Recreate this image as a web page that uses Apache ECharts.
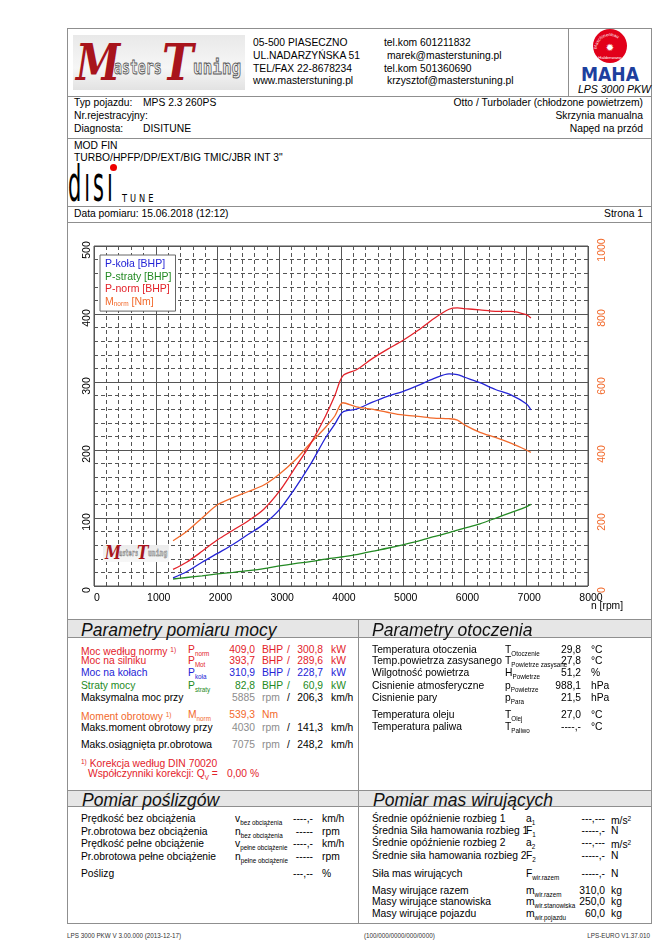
<!DOCTYPE html>
<html><head><meta charset="utf-8">
<script src="https://cdn.jsdelivr.net/npm/echarts@6/dist/echarts.min.js"></script>
<style>
body{margin:0;width:669px;height:946px;position:relative;background:#fff;font-family:'Liberation Sans',Arial,sans-serif;overflow:hidden}
.t{position:absolute;white-space:nowrap;font-size:10.3px;line-height:12px;color:#000}
.sb{font-size:6.3px;vertical-align:-3px}
.sp{font-size:6.5px;vertical-align:3px}
.hl{position:absolute;left:67px;width:585px;height:0;border-top:1.3px solid #8f8f8f}
.vl{position:absolute;width:0;border-left:1.3px solid #8f8f8f}
.band{position:absolute;background:#e6e6e6}
.sec{position:absolute;white-space:nowrap;font-style:italic;font-size:17.5px;line-height:20px;color:#111}
#chart{position:absolute;left:67px;top:222px;width:585px;height:397px}
.lg{position:absolute;transform-origin:0 0;white-space:nowrap}
</style></head>
<body>
<div style="position:absolute;left:67px;top:28px;width:585px;height:896px;box-sizing:border-box;border:1.5px solid #8f8f8f"></div>
<div class="hl" style="top:96px"></div>
<div class="hl" style="top:138px"></div>
<div class="hl" style="top:206px"></div>
<div class="hl" style="top:222px"></div>
<div class="band" style="left:68px;top:620px;width:583px;height:17px"></div>
<div class="band" style="left:68px;top:791px;width:583px;height:15px"></div>
<div class="hl" style="top:619px"></div>
<div class="hl" style="top:637px"></div>
<div class="hl" style="top:790px"></div>
<div class="hl" style="top:806px"></div>
<div class="vl" style="left:568px;top:28px;height:68px"></div>
<div class="vl" style="left:358px;top:619px;height:305px"></div>

<!-- Masters Tuning logo -->
<div style="position:absolute;left:73px;top:35px;width:172px;height:55px;background:linear-gradient(180deg,#e9e9e9,#f6f6f6 60%,#e2e2e2);overflow:hidden">
  <span class="lg" style="left:3px;top:-2px;font:italic bold 50px 'DejaVu Serif';color:#a8141c;transform:scaleX(0.8)">M</span>
  <span class="lg" style="left:41px;top:20px;font:bold 20px 'DejaVu Sans Mono';color:#f0f0f0;-webkit-text-stroke:0.9px #555;transform:scaleX(0.66)">asters</span>
  <span class="lg" style="left:89px;top:-2px;font:italic bold 50px 'DejaVu Serif';color:#a8141c;transform:scaleX(0.85)">T</span>
  <span class="lg" style="left:120px;top:20px;font:bold 20px 'DejaVu Sans Mono';color:#f0f0f0;-webkit-text-stroke:0.9px #555;transform:scaleX(0.8)">uning</span>
</div>

<!-- MAHA logo -->
<svg style="position:absolute;left:578px;top:27px" width="64" height="56" viewBox="0 0 64 56">
  <defs><path id="arc" d="M19,22 A13,13 0 0 1 45,22"/></defs>
  <circle cx="32" cy="19" r="17" fill="#e2001a"/>
  <text font-size="4.4" fill="#fff" font-family="Liberation Sans"><textPath href="#arc">Maschinenbau</textPath></text>
  <text x="32" y="24" font-size="10" fill="#fff" text-anchor="middle" font-family="DejaVu Sans">✹</text>
  <text x="32" y="32" font-size="4.2" fill="#fff" text-anchor="middle" font-family="Liberation Sans">Haldenwang</text>
  <text x="32" y="54" font-size="20" font-weight="bold" fill="#1d3f9e" text-anchor="middle" font-family="DejaVu Sans Condensed" textLength="58" lengthAdjust="spacingAndGlyphs">MAHA</text>
</svg>
<div class="t" style="left:578px;top:83px;font-style:italic;font-size:10.5px">LPS 3000 PKW</div>

<!-- disi TUNE logo -->
<div class="lg" style="left:68px;top:159px;font:50px 'DejaVu Sans';line-height:50px;transform:scaleX(0.42);letter-spacing:7px;color:#000">dısı</div>
<div style="position:absolute;left:110px;top:164px;width:7px;height:7px;border-radius:50%;background:#e00"></div>
<div class="lg" style="left:122px;top:193px;font:11px 'DejaVu Sans';line-height:11px;transform:scaleX(0.75);letter-spacing:4px">TUNE</div>

<div id="chart"></div>
<!-- chart watermark -->
<div style="position:absolute;left:103px;top:545px;width:66px;height:17px;background:linear-gradient(180deg,#ececec,#f7f7f7);overflow:hidden">
  <span class="lg" style="left:2px;top:-3px;font:italic bold 18px 'DejaVu Serif';color:#a8141c;transform:scaleX(0.8)">M</span>
  <span class="lg" style="left:16px;top:4px;font:bold 8px 'DejaVu Sans Mono';color:#eee;-webkit-text-stroke:0.4px #555;transform:scaleX(0.66)">asters</span>
  <span class="lg" style="left:34px;top:-3px;font:italic bold 18px 'DejaVu Serif';color:#a8141c;transform:scaleX(0.85)">T</span>
  <span class="lg" style="left:45px;top:4px;font:bold 8px 'DejaVu Sans Mono';color:#eee;-webkit-text-stroke:0.4px #555;transform:scaleX(0.8)">uning</span>
</div>

<script>
// ---- chart data ----
const rpm     = [1280,1500,1750,2000,2250,2500,2750,3000,3250,3500,3750,3900,4030,4250,4500,4750,5000,5250,5500,5750,5885,6000,6250,6500,6750,7000,7075];
const pKola   = [12,21,35,48,61,76,91,112,143,178,218,238,256,260,270,279,286,295,305,312,311,307,299,289,281,268,259];
const pStraty = [10.3,12.5,15,17.7,20,22.5,25.5,29.5,33,36,39.5,41.5,43,46,51,55.5,60.5,66,72.5,78.5,82,85,91.5,99.5,108,116.5,120];
const pNorm   = [24.5,35,51,68,82,96,113,139,173,208,250,280,309,318,334,348,361,376,393,407,409,408,406,404,404,399,394];
const mNorm   = [133,160,200,239,260,278,297,329,369,419,467,500,539,527,520,511,503,499,494,492,488,474,452,437,420,400,393];
const seriesNames = ['P-koła [BHP]','P-straty [BHP]','P-norm [BHP]','Mnorm [Nm]'];
const xRange = [0, 8000, 1000];
const yLeftRange = [0, 500, 100];
const yRightRange = [0, 1000, 200];

const BLUE='#2424d6', GREEN='#238a23', RED='#e3222a', ORANGE='#f26a2c', GRAY='#8c8c8c';
const FONT="'Liberation Sans', Arial, sans-serif";

function pair(v){ return rpm.map((r,i)=>[r,v[i]]); }

const chart = echarts.init(document.getElementById('chart'), null, {renderer:'canvas'});
const lineSer = (name, data, color, yi) => ({
  name, type:'line', data: pair(data), yAxisIndex: yi, showSymbol:false, smooth:0.3,
  lineStyle:{color, width:1.3}, itemStyle:{color}, z: 5
});
const plain = v => String(v);
chart.setOption({
  animation:false,
  textStyle:{fontFamily:FONT},
  grid:{left:27, right:64, top:24, bottom:33, show:true, borderColor:'#555', borderWidth:1},
  legend:{
    orient:'vertical', left:33, top:33, itemWidth:0, itemHeight:12, itemGap:0.7,
    padding:[3,4,3,0], borderColor:'#666', borderWidth:1, backgroundColor:'#fff',
    selectedMode:false,
    textStyle:{fontSize:10.5, fontFamily:FONT, lineHeight:12},
    formatter: n => n.startsWith('M') ? '{o|M}{os|norm}{o| [Nm]}' : n,
    data:[
      {name:seriesNames[0], icon:'none', textStyle:{color:BLUE}},
      {name:seriesNames[1], icon:'none', textStyle:{color:GREEN}},
      {name:seriesNames[2], icon:'none', textStyle:{color:RED}},
      {name:seriesNames[3], icon:'none', textStyle:{color:ORANGE, rich:{
        o:{color:ORANGE, fontSize:10.5, fontFamily:FONT},
        os:{color:ORANGE, fontSize:6.5, fontFamily:FONT, padding:[5,0,0,0]}}}}
    ]
  },
  xAxis:{
    type:'value', min:xRange[0], max:xRange[1], interval:xRange[2],
    axisLine:{show:false}, axisTick:{show:false},
    axisLabel:{color:'#000', fontSize:10.5, margin:7, padding:[0,0,0,6], fontFamily:FONT, formatter:plain},
    splitLine:{show:true, lineStyle:{color:'#555', width:1}},
    minorTick:{show:false, splitNumber:5},
    minorSplitLine:{show:true, lineStyle:{color:'#555', width:1, type:[4,3]}}
  },
  yAxis:[{
    type:'value', min:yLeftRange[0], max:yLeftRange[1], interval:yLeftRange[2],
    axisLine:{show:false}, axisTick:{show:false},
    axisLabel:{color:'#000', fontSize:10.5, rotate:90, margin:1, padding:[0,8,0,0], fontFamily:FONT, formatter:plain},
    splitLine:{show:true, lineStyle:{color:'#555', width:1}},
    minorTick:{show:false, splitNumber:5},
    minorSplitLine:{show:true, lineStyle:{color:'#555', width:1, type:[4,3]}}
  },{
    type:'value', position:'right', min:yRightRange[0], max:yRightRange[1], interval:yRightRange[2],
    axisLine:{show:false}, axisTick:{show:false}, splitLine:{show:false},
    axisLabel:{color:ORANGE, fontSize:10.5, rotate:90, margin:9, padding:[0,8,0,0], fontFamily:FONT, formatter:plain}
  }],
  series:[
    lineSer(seriesNames[1], pStraty, GREEN, 0),
    lineSer(seriesNames[0], pKola, BLUE, 0),
    lineSer(seriesNames[3], mNorm, ORANGE, 1),
    lineSer(seriesNames[2], pNorm, RED, 0)
  ]
});

// ---- page text ----
function T(x, cy, html, o){
  o = o || {};
  const d = document.createElement('div');
  d.className = 't'; d.innerHTML = html;
  d.style.top = (cy - 6) + 'px';
  if (o.a === 'r') d.style.right = (669 - x) + 'px'; else d.style.left = x + 'px';
  if (o.c) d.style.color = o.c;
  if (o.s) d.style.fontSize = o.s + 'px';
  if (o.i) d.style.fontStyle = 'italic';
  document.body.appendChild(d);
}
function S(x, cy, txt){
  const d = document.createElement('div'); d.className='sec'; d.textContent = txt;
  d.style.left = x+'px'; d.style.top = (cy-10)+'px'; document.body.appendChild(d);
}
// header
T(253,43,'05-500 PIASECZNO'); T(253,56,'UL.NADARZYŃSKA 51'); T(253,69,'TEL/FAX 22-8678234'); T(253,81,'www.masterstuning.pl');
T(384,43,'tel.kom 601211832'); T(387,56,'marek@masterstuning.pl'); T(384,69,'tel.kom 501360690'); T(387,81,'krzysztof@masterstuning.pl');
// vehicle
T(74,103,'Typ pojazdu:'); T(143,103,'MPS 2.3 260PS');
T(74,116,'Nr.rejestracyjny:');
T(74,129,'Diagnosta:'); T(143,129,'DISITUNE');
T(643,103,'Otto / Turbolader (chłodzone powietrzem)',{a:'r'});
T(643,116,'Skrzynia manualna',{a:'r'});
T(643,129,'Napęd na przód',{a:'r'});
T(74,146,'MOD FIN'); T(74,158,'TURBO/HPFP/DP/EXT/BIG TMIC/JBR INT 3"');
T(74,214,'Data pomiaru: 15.06.2018 (12:12)'); T(643,214,'Strona 1',{a:'r'});
T(591,606,'n [rpm]');

// Parametry pomiaru mocy
S(81,630,'Parametry pomiaru mocy');
const rowsL = [
  [649.7,'Moc według normy <span class="sp">1)</span>','P<span class="sb">norm</span>','409,0','BHP','/','300,8','kW',RED,RED],
  [661.3,'Moc na silniku','P<span class="sb">Mot</span>','393,7','BHP','/','289,6','kW',RED,RED],
  [673,'Moc na kołach','P<span class="sb">koła</span>','310,9','BHP','/','228,7','kW',BLUE,BLUE],
  [686.3,'Straty mocy','P<span class="sb">straty</span>','82,8','BHP','/','60,9','kW',GREEN,GREEN],
  [698,'Maksymalna moc przy','','5885','rpm','/','206,3','km/h','#000',GRAY],
  [715.3,'Moment obrotowy <span class="sp">1)</span>','M<span class="sb">norm</span>','539,3','Nm','','','',ORANGE,ORANGE],
  [728,'Maks.moment obrotowy przy','','4030','rpm','/','141,3','km/h','#000',GRAY],
  [744.7,'Maks.osiągnięta pr.obrotowa','','7075','rpm','/','248,2','km/h','#000',GRAY]
];
rowsL.forEach(r=>{
  const [cy,l,s,v1,u1,sl,v2,u2,c,c2]=r;
  T(81,cy,l,{c}); if(s) T(188,cy,s,{c});
  T(255,cy,v1,{a:'r',c:c2}); T(262,cy,u1,{c:c2});
  if(sl) T(287,cy,sl,{c}); if(v2) T(323,cy,v2,{a:'r',c}); if(u2) T(331,cy,u2,{c});
});
T(81,762,'<span class="sp">1)</span> Korekcja według DIN 70020',{c:RED});
T(88,773.7,'Współczynniki korekcji: Q<span class="sb">V</span> =',{c:RED});
T(227,773.7,'0,00 %',{c:RED});

// Parametry otoczenia
S(372,630,'Parametry otoczenia');
const rowsR = [
  [649.7,'Temperatura otoczenia','T<span class="sb">Otoczenie</span>','29,8','°C'],
  [661.3,'Temp.powietrza zasysanego','T<span class="sb">Powietrze zasysane</span>','27,8','°C'],
  [673,'Wilgotność powietrza','H<span class="sb">Powietrze</span>','51,2','%'],
  [686.3,'Cisnienie atmosferyczne','p<span class="sb">Powietrze</span>','988,1','hPa'],
  [698,'Cisnienie pary','p<span class="sb">Para</span>','21,5','hPa'],
  [715.3,'Temperatura oleju','T<span class="sb">Olej</span>','27,0','°C'],
  [727.3,'Temperatura paliwa','T<span class="sb">Paliwo</span>','----,-','°C']
];
rowsR.forEach(([cy,l,s,v,u])=>{ T(372,cy,l); T(505,cy,s); T(581,cy,v,{a:'r'}); T(591,cy,u); });

// Pomiar poślizgów
S(82,800,'Pomiar poślizgów');
const rowsP = [
  [819.3,'Prędkość bez obciążenia','v<span class="sb">bez obciążenia</span>','----,-','km/h'],
  [831.7,'Pr.obrotowa bez obciążenia','n<span class="sb">bez obciążenia</span>','-----','rpm'],
  [844.3,'Prędkość pełne obciążenie','v<span class="sb">pełne obciążenie</span>','----,-','km/h'],
  [856.7,'Pr.obrotowa pełne obciążenie','n<span class="sb">pełne obciążenie</span>','-----','rpm'],
  [874.3,'Poślizg','','---,--','%']
];
rowsP.forEach(([cy,l,s,v,u])=>{ T(81,cy,l); if(s) T(235,cy,s); T(313,cy,v,{a:'r'}); T(322,cy,u); });

// Pomiar mas wirujących
S(373,800,'Pomiar mas wirujących');
const rowsM = [
  [819.3,'Średnie opóźnienie rozbieg 1','a<span class="sb">1</span>','---,---','m/s<span class="sp">2</span>'],
  [831,'Średnia Siła hamowania rozbieg 1','F<span class="sb">1</span>','-----,-','N'],
  [843.3,'Średnie opóźnienie rozbieg 2','a<span class="sb">2</span>','---,---','m/s<span class="sp">2</span>'],
  [855.7,'Średnie siła hamowania rozbieg 2','F<span class="sb">2</span>','-----,-','N'],
  [874.3,'Siła mas wirujących','F<span class="sb">wir.razem</span>','-----,-','N'],
  [890.5,'Masy wirujące razem','m<span class="sb">wir.razem</span>','310,0','kg'],
  [902.3,'Masy wirujące stanowiska','m<span class="sb">wir.stanowiska</span>','250,0','kg'],
  [914,'Masy wirujące pojazdu','m<span class="sb">wir.pojazdu</span>','60,0','kg']
];
rowsM.forEach(([cy,l,s,v,u])=>{ T(372,cy,l); T(526,cy,s); T(605,cy,v,{a:'r'}); T(611,cy,u); });

// footer
T(67,936,'LPS 3000 PKW V 3.00.000 (2013-12-17)',{s:6.3,c:'#333'});
T(364,936,'(100/000/0000/000/0000)',{s:6.3,c:'#333'});
T(650,936,'LPS-EURO V1.37.010',{a:'r',s:6.3,c:'#333'});
</script>
</body></html>
